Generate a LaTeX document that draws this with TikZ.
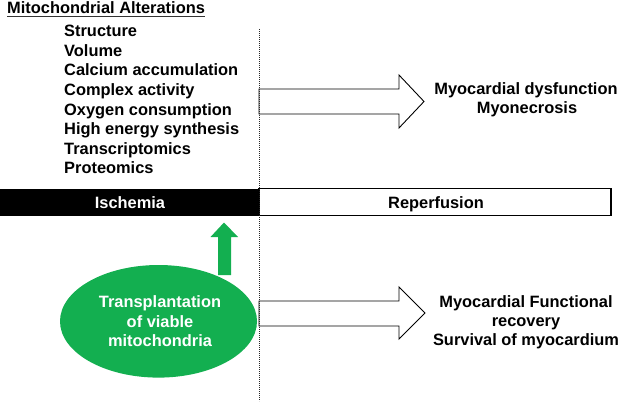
\documentclass[tikz,border=0pt]{standalone}
\usepackage{fontspec}
\setmainfont{Liberation Sans}
\definecolor{pgreen}{HTML}{13AF50}
\begin{document}
\begin{tikzpicture}[x=1pt,y=-1pt,
  txt/.style={inner sep=0pt,font=\fontsize{16.4}{19}\selectfont\bfseries},
  hollow/.style={draw=black,line width=0.9pt,fill=white,line join=miter}]
\useasboundingbox (0,0) rectangle (620,401);
% title
\node[txt,anchor=base west] (title) at (7,14) {Mitochondrial Alterations};
\draw[line width=1.3pt,black!80] ([yshift=-2.6pt]title.base west) -- ([yshift=-2.6pt]title.base east);
% list
\foreach \t [count=\i] in {Structure,Volume,Calcium accumulation,Complex activity,Oxygen consumption,High energy synthesis,Transcriptomics,Proteomics}{
  \node[txt,anchor=base west] (l\i) at (64,{36.7+19.6*(\i-1)}) {\t};
}
% bars
\fill[black] (0,188.5) rectangle (259,215.5);
\node[txt,white,anchor=base] (isch) at (130,208) {Ischemia};
\draw[line width=1.1pt,fill=white] (259,188.5) rectangle (611,215.5);
\node[txt,anchor=base] (rep) at (436,208) {Reperfusion};
% upper hollow arrow
\draw[hollow] (259,89) -- (399,89) -- (399,75) -- (424,101.5) -- (399,128) -- (399,114) -- (259,114) -- cycle;
\node[txt,anchor=base] (r1) at (526,95) {Myocardial dysfunction};
\node[txt,anchor=base] (r2) at (527,113.3) {Myonecrosis};
% lower hollow arrow
\draw[hollow] (259,301) -- (399,301) -- (399,287) -- (425,313) -- (399,339) -- (399,326) -- (259,326) -- cycle;
\node[txt,anchor=base] (s1) at (526,307.7) {Myocardial Functional};
\node[txt,anchor=base] (s2) at (526,326.7) {recovery};
\node[txt,anchor=base] (s3) at (526,345.7) {Survival of myocardium};
% green arrow
\fill[pgreen] (218,275) -- (218,237) -- (210.5,237) -- (224,222.5) -- (238,237) -- (231,237) -- (231,275) -- cycle;
% green ellipse
\fill[pgreen] (158.5,321.3) ellipse [x radius=98.5,y radius=56.3];
\node[txt,white,anchor=base] (e1) at (160,307.5) {Transplantation};
\node[txt,white,anchor=base] (e2) at (160,327) {of viable};
\node[txt,white,anchor=base] (e3) at (160,346.5) {mitochondria};
% dashed divider
\draw[line width=1pt,black!85,dash pattern=on 1.2pt off 0.8pt] (259,29) -- (259,401);
\end{tikzpicture}
\end{document}
